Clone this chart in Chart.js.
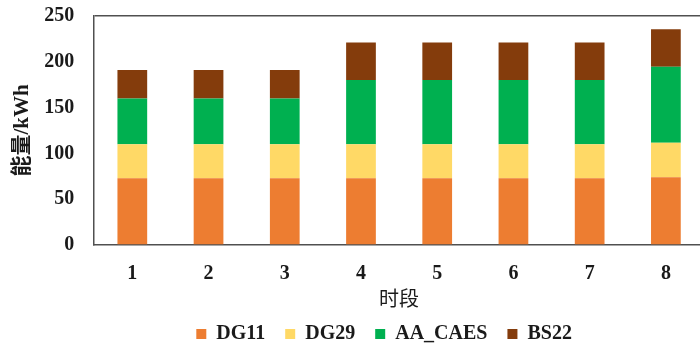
<!DOCTYPE html>
<html>
<head>
<meta charset="utf-8">
<script src="https://cdn.jsdelivr.net/npm/chart.js@4/dist/chart.umd.min.js"></script>
<style>
  html, body { margin: 0; padding: 0; background: #fff; overflow: hidden; }
  #wrap { position: relative; width: 712px; height: 352px; }
</style>
</head>
<body>
<div id="wrap"><canvas id="c"></canvas></div>
<script>
// 时段 1–8 的能量构成 (kWh)
const periods = ['1', '2', '3', '4', '5', '6', '7', '8'];
const dg11   = [73, 73, 73, 73, 73, 73, 73, 74];
const dg29   = [37, 37, 37, 37, 37, 37, 37, 37.5];
const aaCaes = [50, 50, 50, 70, 70, 70, 70, 83];
const bs22   = [31, 31, 31, 41, 41, 41, 41, 41];
const yTicks = [0, 50, 100, 150, 200, 250];

const serifBold = { family: "'Liberation Serif', 'Times New Roman', serif", size: 20, weight: 'bold' };
const frameColor = '#505050';

// nudge the legend row a little to the left of the plot centre
const legendShift = {
  id: 'legendShift',
  afterLayout(chart) {
    const lg = chart.legend;
    if (lg) { lg.left -= 15; lg.right -= 15; }
  }
};

new Chart(document.getElementById('c'), {
  type: 'bar',
  data: {
    labels: periods,
    datasets: [
      { label: 'DG11',    data: dg11,   backgroundColor: '#ED7D31' },
      { label: 'DG29',    data: dg29,   backgroundColor: '#FFD966' },
      { label: 'AA_CAES', data: aaCaes, backgroundColor: '#00B050' },
      { label: 'BS22',    data: bs22,   backgroundColor: '#843C0C' }
    ]
  },
  options: {
    responsive: true,
    maintainAspectRatio: false,
    animation: false,
    devicePixelRatio: 1,
    layout: { padding: { left: 10, right: 8, top: 16, bottom: -2 } },
    datasets: { bar: { barPercentage: 0.39, categoryPercentage: 1.0 } },
    scales: {
      x: {
        stacked: true,
        grid: { display: false, drawTicks: false },
        border: { display: true, color: frameColor, width: 1.5 },
        ticks: { color: '#1a1a1a', font: serifBold, padding: 17 },
        title: {
          display: true, text: '时段', color: '#1a1a1a',
          font: { family: "'Noto Sans CJK SC', sans-serif", size: 20, weight: 'normal' },
          padding: { top: -17, bottom: -6 }
        }
      },
      y: {
        stacked: true,
        min: 0, max: 250,
        afterBuildTicks(axis) { axis.ticks = yTicks.map(v => ({ value: v })); },
        grid: {
          drawTicks: true,
          tickLength: 20,
          tickColor: 'rgba(0,0,0,0)',
          color: ctx => (ctx.tick && ctx.tick.value === 250 ? frameColor : 'rgba(0,0,0,0)'),
          lineWidth: 1.5
        },
        border: { display: true, color: frameColor, width: 1.5 },
        ticks: { color: '#1a1a1a', font: serifBold, padding: 0 },
        title: {
          display: true, text: '能量/kWh', color: '#1a1a1a',
          font: { family: "'Liberation Serif', 'Noto Sans CJK SC', serif", size: 21, weight: 'bold' },
          padding: { top: 0, bottom: 9 }
        }
      }
    },
    plugins: {
      legend: {
        position: 'bottom',
        fullSize: false,
        labels: {
          color: '#1a1a1a', font: serifBold,
          boxWidth: 10, boxHeight: 10, padding: 20
        }
      },
      tooltip: { enabled: false }
    }
  },
  plugins: [legendShift]
});
</script>
</body>
</html>
